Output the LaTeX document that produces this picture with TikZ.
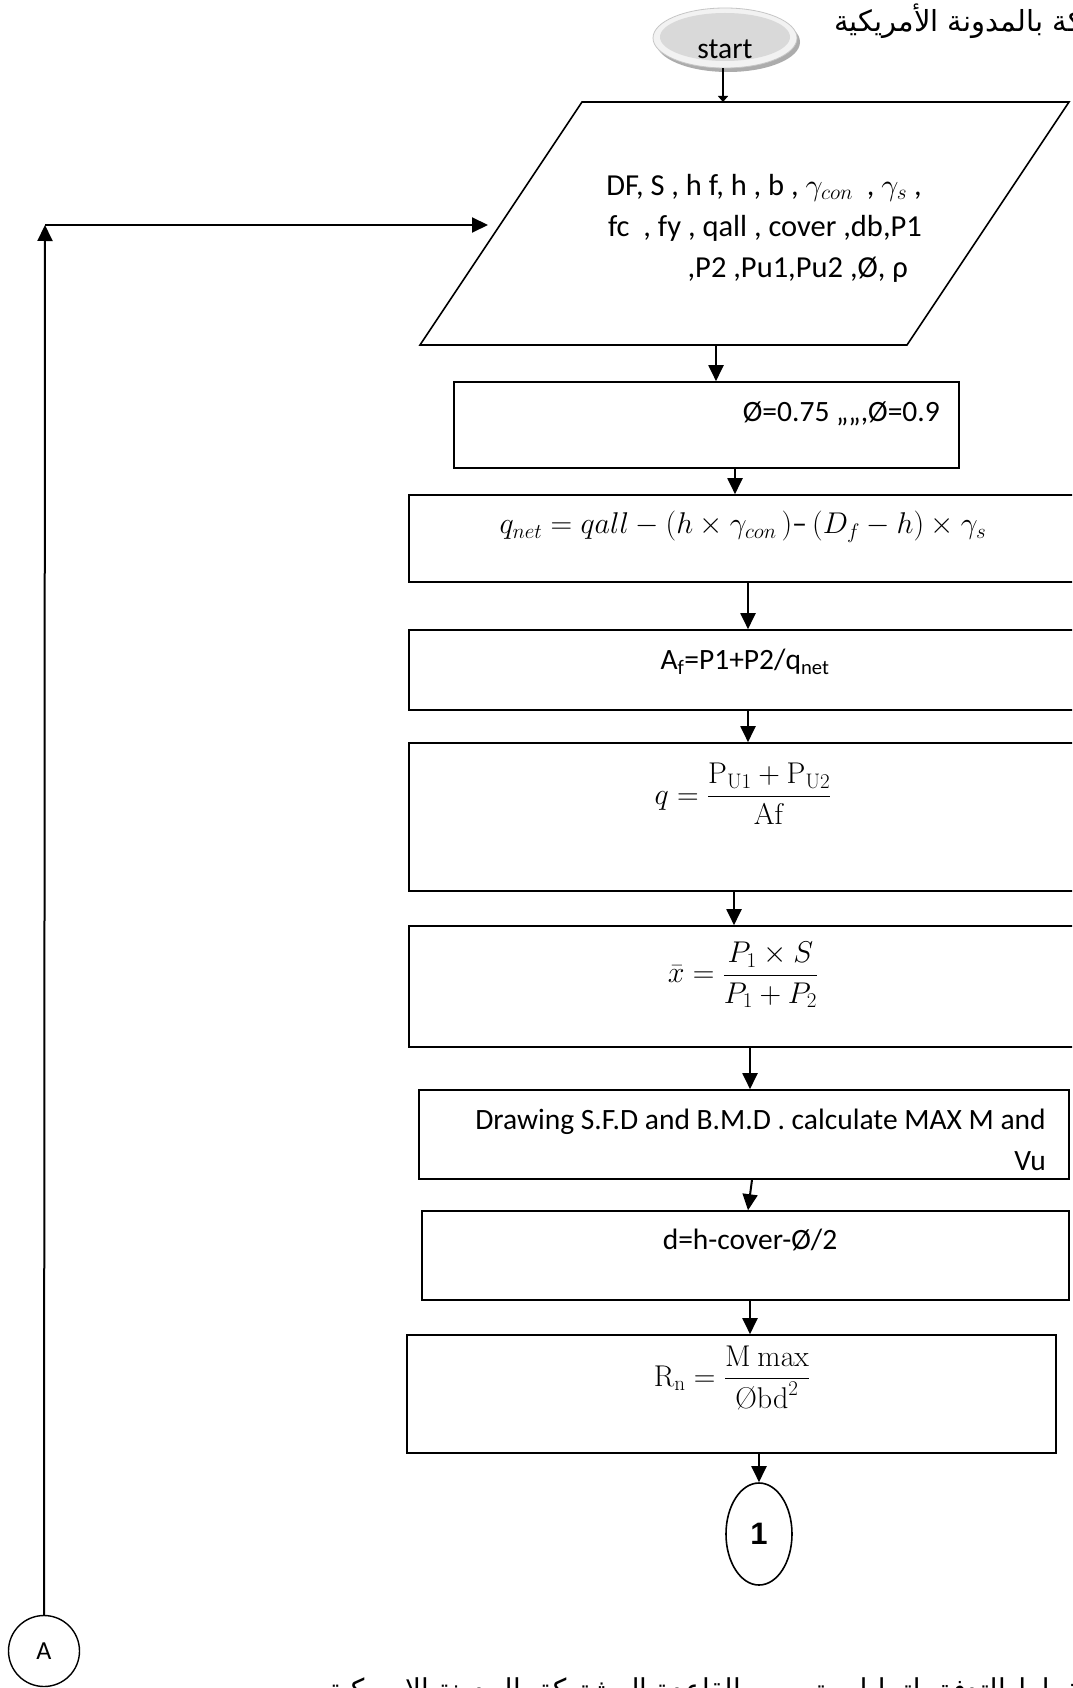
\RequirePackage{fix-cm}
\documentclass[tikz,border=0pt]{standalone}
\usepackage{amsmath}
\usepackage{graphicx}
\usepackage[no-math]{fontspec}
\setmainfont{Carlito}
\newfontfamily\arabicfont[Script=Arabic]{DejaVu Sans}
\newfontfamily\boldsans{Liberation Sans}
\TeXXeTstate=1
\usetikzlibrary{arrows.meta,shapes.geometric}
\tikzset{
  box/.style={draw, line width=1.6pt, rectangle, inner sep=0pt},
  arr/.style={line width=2pt, -{Triangle[width=15pt,length=16pt]}},
  txt/.style={inner sep=0pt, font=\fontsize{29.5}{41}\selectfont},
  mth/.style={inner sep=0pt, font=\fontsize{30}{36}\selectfont},
}
\begin{document}
\begin{tikzpicture}[x=1pt,y=-1pt]
\useasboundingbox (0,0) rectangle (1072,1688);
\clip (0,0) rectangle (1072,1688);
\fill[white] (0,0) rectangle (1072,1688);

% top Arabic caption (runs off the right edge)
\node[inner sep=0pt, anchor=base west, font={\arabicfont\fontsize{29}{34}\selectfont}] (captop) at (834,32) {\beginR مخطط التدفق لتحليل وتصميم القاعدة المشتركة بالمدونة الأمريكية\endR};

% start terminal
\fill[gray!65] (728,42) ellipse [x radius=72, y radius=30];
\node[ellipse, draw=gray!45, line width=0.8pt, fill=gray!10, minimum width=144pt, minimum height=60pt, inner sep=0pt] (start) at (725,38) {};
\fill[gray!30] (725,37) ellipse [x radius=65, y radius=24];
\node[txt, anchor=base] (starttxt) at (725,59) {start};

% input parallelogram
\draw[line width=1.6pt] (582,102) -- (1069,102) -- (907,345) -- (420,345) -- cycle;
\coordinate (inpT) at (723,102);
\coordinate (inpB) at (716,345);
\coordinate (inpL) at (488,225);
\node[inner sep=0pt, font=\fontsize{30.5}{41}\selectfont, align=right, anchor=east] (inp) at (922,228)
 {DF, S , h f, h , b , $\gamma_{con}$\ \ , $\gamma_s$ ,\\
  fc\ \ , fy , qall , cover ,db,P1\\
  ,P2 ,Pu1,Pu2 ,Ø, ρ\hspace*{14pt}};

% process boxes
\node[box, minimum width=505pt, minimum height=86pt] (b1) at (706.5,425) {};
\node[txt, anchor=east] (t1) at (940,414) {Ø=0.75 ,,,,,Ø=0.9};

\node[box, minimum width=681pt, minimum height=87pt] (b2) at (749.5,538.5) {};
\node[mth] (t2) at (743,527) {$q_{net} = qall - (h\times\gamma_{con}\,)\text{–}\,(D_f - h)\times\gamma_s$};

\node[box, minimum width=681pt, minimum height=80pt] (b3) at (749.5,670) {};
\node[txt] (t3) at (745,662) {A\textsubscript{f}=P1+P2/q\textsubscript{net}};

\node[box, minimum width=681pt, minimum height=148pt] (b4) at (749.5,817) {};
\node[mth] (t4) at (743,794) {$q = \dfrac{\mathrm{P_{U1}}+\mathrm{P_{U2}}}{\mathrm{Af}}$};

\node[box, minimum width=681pt, minimum height=121pt] (b5) at (749.5,986.5) {};
\node[mth] (t5) at (743,975) {$\bar{x} = \dfrac{P_1\times S}{P_1+P_2}$};

\node[box, minimum width=650pt, minimum height=89pt] (b6) at (744,1134.5) {};
\node[txt, align=right, anchor=east] (t6) at (1046,1139.5) {Drawing S.F.D and B.M.D . calculate MAX M and\\Vu};

\node[box, minimum width=647pt, minimum height=89pt] (b7) at (745.5,1255.5) {};
\node[txt] (t7) at (750,1240) {d=h-cover-Ø/2};

\node[box, minimum width=649pt, minimum height=118pt] (b8) at (731.5,1394) {};
\node[mth] (t8) at (732,1378) {$\mathrm{R_n} = \dfrac{\mathrm{M\ max}}{\text{\fontfamily{lmr}\selectfont Ø}\mathrm{bd}^2}$};

% connector circles
\node[ellipse, draw, line width=1.6pt, minimum width=66pt, minimum height=102pt, inner sep=0pt, font=\boldsans\bfseries\fontsize{31}{36}\selectfont] (c1) at (759,1534) {1};
\node[circle, draw, line width=1.4pt, minimum size=71pt, inner sep=0pt, font=\fontsize{26}{30}\selectfont] (A) at (44,1651) {A};

% helper x positions
\coordinate (x1) at (735,0);
\coordinate (x2) at (748,0);
\coordinate (x3) at (748,0);
\coordinate (x4) at (734,0);
\coordinate (x5) at (750,0);
\coordinate (x6a) at (752,0);
\coordinate (x6b) at (748,0);
\coordinate (x7) at (750,0);
\coordinate (x8) at (759,0);
\coordinate (corner) at (45,225);

% connectors
\draw[line width=2.5pt, -{Triangle[width=10pt,length=6pt]}] (start.south -| inpT) -- (inpT);
\draw[arr] (inpB) -- (b1.north -| inpB);
\draw[arr] (b1.south -| x1) -- (b2.north -| x1);
\draw[arr] (b2.south -| x2) -- (b3.north -| x2);
\draw[arr] (b3.south -| x3) -- (b4.north -| x3);
\draw[arr] (b4.south -| x4) -- (b5.north -| x4);
\draw[arr] (b5.south -| x5) -- (b6.north -| x5);
\draw[arr] (b6.south -| x6a) -- (b7.north -| x6b);
\draw[arr] (b7.south -| x7) -- (b8.north -| x7);
\draw[arr] (b8.south -| x8) -- (c1.north);
\draw[arr] (A.north) -- (corner);
\draw[arr] (corner) -- (inpL);

% bottom Arabic caption (cut by the page edges)
\node[inner sep=0pt, anchor=base west, font={\arabicfont\fontsize{30}{36}\selectfont}] (capbot) at (328,1700) {\scalebox{0.93}[1]{\beginR مخطط التدفق لتحليل وتصميم القاعدة المشتركة بالمدونة الامريكية\endR}};
\end{tikzpicture}
\end{document}
